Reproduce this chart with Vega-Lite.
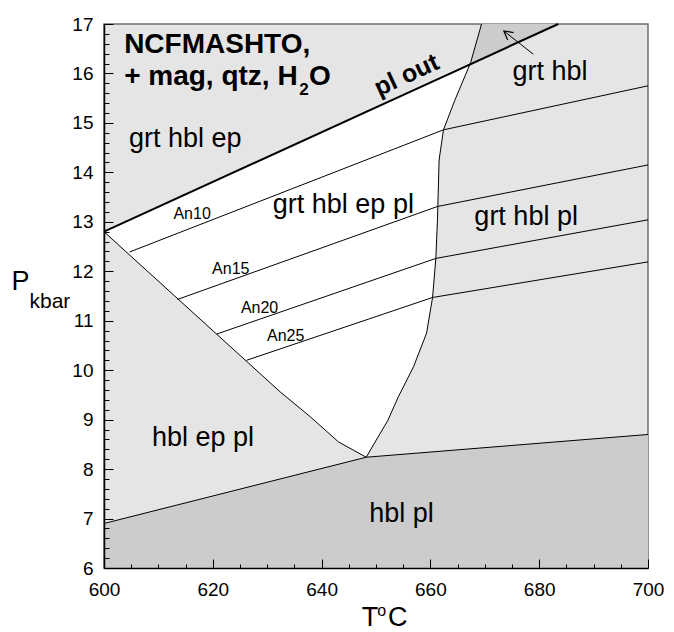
{
  "$schema": "https://vega.github.io/schema/vega-lite/v6.json",
  "width": 544,
  "height": 544,
  "autosize": {"type": "none"},
  "padding": {"left": 104, "top": 24, "right": 26, "bottom": 64},
  "background": "white",
  "view": {"stroke": null},
  "config": {"font": "Liberation Sans", "axis": {"ticks": true}},
  "resolve": {"axis": {"x": "independent", "y": "independent"}},
  "encoding": {
    "x": {"field": "T", "type": "quantitative", "scale": {"domain": [600, 700], "nice": false, "zero": false}, "axis": null},
    "y": {"field": "P", "type": "quantitative", "scale": {"domain": [6, 17], "nice": false, "zero": false}, "axis": null}
  },
  "layer": [
    {
      "data": {"values": [
        {"T": 600, "P": 17},
        {"T": 700, "P": 17}
      ]},
      "mark": {"type": "area", "color": "#e5e5e5", "stroke": "#6e6e6e", "strokeWidth": 1.5},
      "encoding": {"y2": {"datum": 6}}
    },
    {
      "data": {"values": [
        {"T": 600, "P": 6.9},
        {"T": 648.2, "P": 8.24},
        {"T": 700, "P": 8.7}
      ]},
      "mark": {"type": "area", "color": "#cccccc", "clip": true},
      "encoding": {
        "x": {
          "field": "T", "type": "quantitative",
          "scale": {"domain": [600, 700], "nice": false, "zero": false},
          "axis": {
            "orient": "bottom",
            "zindex": 1,
            "offset": -9,
            "values": [600, 620, 640, 660, 680, 700],
            "format": "d",
            "ticks": true,
            "tickSize": 9,
            "labelPadding": 12,
            "labelBaseline": "top",
            "labelFlush": false,
            "labelOverlap": false,
            "labelFontSize": 19,
            "labelColor": "black",
            "tickColor": "#000000",
            "tickOpacity": 1,
            "tickWidth": 1,
            "domain": false,
            "grid": false,
            "title": null
          }
        },
        "y": {
          "field": "P", "type": "quantitative",
          "scale": {"domain": [6, 17], "nice": false, "zero": false},
          "axis": {
            "orient": "left",
            "zindex": 1,
            "offset": -9,
            "values": [6, 7, 8, 9, 10, 11, 12, 13, 14, 15, 16, 17],
            "format": "d",
            "ticks": true,
            "tickSize": 9,
            "labelPadding": 11,
            "labelFlush": false,
            "labelOverlap": false,
            "labelFontSize": 19,
            "labelColor": "black",
            "tickColor": "#000000",
            "tickOpacity": 1,
            "tickWidth": 1,
            "domain": false,
            "grid": false,
            "title": null
          }
        },
        "y2": {"datum": 6}
      }
    },
    {
      "data": {"values": [
        {"o": 1, "T": 600, "P": 12.8},
        {"o": 2, "T": 667.4, "P": 16.22},
        {"o": 3, "T": 664.5, "P": 15.46},
        {"o": 4, "T": 662.4, "P": 14.86},
        {"o": 5, "T": 661.6, "P": 14.25},
        {"o": 6, "T": 661.3, "P": 13.04},
        {"o": 7, "T": 661.0, "P": 12.26},
        {"o": 8, "T": 660.4, "P": 11.47},
        {"o": 9, "T": 659.3, "P": 10.75},
        {"o": 10, "T": 656.9, "P": 10.07},
        {"o": 11, "T": 654.1, "P": 9.46},
        {"o": 12, "T": 652.2, "P": 8.99},
        {"o": 13, "T": 648.2, "P": 8.24},
        {"o": 14, "T": 643.1, "P": 8.55},
        {"o": 15, "T": 637.9, "P": 9.06},
        {"o": 16, "T": 632.4, "P": 9.56}
      ]},
      "mark": {"type": "line", "fill": "white", "stroke": "white", "strokeWidth": 0.5},
      "encoding": {"order": {"field": "o", "type": "quantitative"}}
    },
    {
      "data": {"values": [
        {"o": 1, "T": 669.4, "P": 17},
        {"o": 2, "T": 683.5, "P": 17},
        {"o": 3, "T": 667.4, "P": 16.22}
      ]},
      "mark": {"type": "line", "fill": "#cccccc", "stroke": "#cccccc", "strokeWidth": 0.5},
      "encoding": {"order": {"field": "o", "type": "quantitative"}}
    },
    {
      "data": {"values": [
        {"id": "curve", "o": 1, "T": 669.4, "P": 17},
        {"id": "curve", "o": 2, "T": 667.4, "P": 16.22},
        {"id": "curve", "o": 3, "T": 664.5, "P": 15.46},
        {"id": "curve", "o": 4, "T": 662.4, "P": 14.86},
        {"id": "curve", "o": 5, "T": 661.6, "P": 14.25},
        {"id": "curve", "o": 6, "T": 661.3, "P": 13.04},
        {"id": "curve", "o": 7, "T": 661.0, "P": 12.26},
        {"id": "curve", "o": 8, "T": 660.4, "P": 11.47},
        {"id": "curve", "o": 9, "T": 659.3, "P": 10.75},
        {"id": "curve", "o": 10, "T": 656.9, "P": 10.07},
        {"id": "curve", "o": 11, "T": 654.1, "P": 9.46},
        {"id": "curve", "o": 12, "T": 652.2, "P": 8.99},
        {"id": "curve", "o": 13, "T": 648.2, "P": 8.24},
        {"id": "left", "o": 1, "T": 600, "P": 12.8},
        {"id": "left", "o": 2, "T": 632.4, "P": 9.56},
        {"id": "left", "o": 3, "T": 637.9, "P": 9.06},
        {"id": "left", "o": 4, "T": 643.1, "P": 8.55},
        {"id": "left", "o": 5, "T": 648.2, "P": 8.24},
        {"id": "bottom", "o": 1, "T": 600, "P": 6.9},
        {"id": "bottom", "o": 2, "T": 648.2, "P": 8.24},
        {"id": "bottom", "o": 3, "T": 700, "P": 8.7},
        {"id": "An10", "o": 1, "T": 604.7, "P": 12.39},
        {"id": "An10", "o": 2, "T": 662.4, "P": 14.86},
        {"id": "An10", "o": 3, "T": 700, "P": 15.75},
        {"id": "An15", "o": 1, "T": 613.5, "P": 11.43},
        {"id": "An15", "o": 2, "T": 661.3, "P": 13.31},
        {"id": "An15", "o": 3, "T": 700, "P": 14.15},
        {"id": "An20", "o": 1, "T": 620.7, "P": 10.73},
        {"id": "An20", "o": 2, "T": 661.0, "P": 12.26},
        {"id": "An20", "o": 3, "T": 700, "P": 13.04},
        {"id": "An25", "o": 1, "T": 626.2, "P": 10.2},
        {"id": "An25", "o": 2, "T": 660.4, "P": 11.47},
        {"id": "An25", "o": 3, "T": 700, "P": 12.19},
        {"id": "arrow", "o": 1, "T": 678.9, "P": 16.39},
        {"id": "arrow", "o": 2, "T": 673.6, "P": 16.85}
      ]},
      "mark": {"type": "line", "color": "black", "strokeWidth": 1},
      "encoding": {
        "x": {
          "field": "T", "type": "quantitative",
          "scale": {"domain": [600, 700], "nice": false, "zero": false},
          "axis": {
            "orient": "bottom",
            "zindex": 1,
            "offset": -4,
            "values": [605,610,615,625,630,635,645,650,655,665,670,675,685,690,695],
            "ticks": true,
            "tickSize": 4,
            "labels": false,
            "domain": false,
            "tickColor": "#000000",
            "tickOpacity": 1,
            "tickWidth": 1,
            "grid": false,
            "title": null
          }
        },
        "y": {
          "field": "P", "type": "quantitative",
          "scale": {"domain": [6, 17], "nice": false, "zero": false},
          "axis": {
            "orient": "left",
            "zindex": 1,
            "offset": -5,
            "values": [6.2,6.4,6.6,6.8,7.2,7.4,7.6,7.8,8.2,8.4,8.6,8.8,9.2,9.4,9.6,9.8,10.2,10.4,10.6,10.8,11.2,11.4,11.6,11.8,12.2,12.4,12.6,12.8,13.2,13.4,13.6,13.8,14.2,14.4,14.6,14.8,15.2,15.4,15.6,15.8,16.2,16.4,16.6,16.8],
            "ticks": true,
            "tickSize": 5,
            "labels": false,
            "domain": false,
            "tickColor": "#000000",
            "tickOpacity": 1,
            "tickWidth": 1,
            "grid": false,
            "title": null
          }
        },
        "detail": {"field": "id", "type": "nominal"},
        "order": {"field": "o", "type": "quantitative"}
      }
    },
    {
      "data": {"values": [
        {"o": 1, "T": 600, "P": 12.8},
        {"o": 2, "T": 683.5, "P": 17}
      ]},
      "mark": {"type": "line", "color": "black", "strokeWidth": 2},
      "encoding": {
        "x": {
          "field": "T", "type": "quantitative",
          "scale": {"domain": [600, 700], "nice": false, "zero": false},
          "axis": {"orient": "bottom", "zindex": 1, "ticks": false, "labels": false, "domain": true, "domainColor": "black", "domainWidth": 1.5, "grid": false, "title": null}
        },
        "y": {
          "field": "P", "type": "quantitative",
          "scale": {"domain": [6, 17], "nice": false, "zero": false},
          "axis": {"orient": "left", "zindex": 1, "ticks": false, "labels": false, "domain": true, "domainColor": "black", "domainWidth": 1.5, "grid": false, "title": null}
        },
        "order": {"field": "o", "type": "quantitative"}
      }
    },
    {
      "data": {"values": [{"T": 673.5, "P": 16.86}]},
      "mark": {"type": "point", "shape": "M-0.55,1L0,0L0.55,1", "filled": false, "stroke": "black", "strokeWidth": 1.2, "size": 300, "angle": 308.5, "opacity": 1}
    },
    {
      "data": {"values": [
        {"t": "NCFMASHTO,", "T": 603.7, "P": 16.41},
        {"t": "+ mag, qtz, H", "T": 603.7, "P": 15.77},
        {"t": "O", "T": 637.7, "P": 15.77}
      ]},
      "mark": {"type": "text", "font": "Liberation Sans", "fontSize": 28, "fontWeight": "bold", "align": "left", "baseline": "alphabetic", "color": "black"},
      "encoding": {"text": {"field": "t"}}
    },
    {
      "data": {"values": [
        {"t": "2", "T": 635.9, "P": 15.56}
      ]},
      "mark": {"type": "text", "font": "Liberation Sans", "fontSize": 17, "fontWeight": "bold", "align": "left", "baseline": "alphabetic", "color": "black"},
      "encoding": {"text": {"field": "t"}}
    },
    {
      "data": {"values": [
        {"t": "grt hbl ep", "T": 604.6, "P": 14.52}
      ]},
      "mark": {"type": "text", "font": "Liberation Sans", "fontSize": 27, "align": "left", "baseline": "alphabetic", "color": "black"},
      "encoding": {"text": {"field": "t"}}
    },
    {
      "data": {"values": [
        {"t": "grt hbl ep pl", "T": 644.0, "P": 13.18},
        {"t": "grt hbl", "T": 682.0, "P": 15.87},
        {"t": "grt hbl pl", "T": 677.6, "P": 12.94},
        {"t": "hbl ep pl", "T": 618.2, "P": 8.47},
        {"t": "hbl pl", "T": 654.7, "P": 6.94}
      ]},
      "mark": {"type": "text", "font": "Liberation Sans", "fontSize": 27, "align": "center", "baseline": "alphabetic", "color": "black"},
      "encoding": {"text": {"field": "t"}}
    },
    {
      "data": {"values": [
        {"t": "An10", "T": 616.2, "P": 13.06},
        {"t": "An15", "T": 623.3, "P": 11.94},
        {"t": "An20", "T": 628.6, "P": 11.15},
        {"t": "An25", "T": 633.4, "P": 10.6}
      ]},
      "mark": {"type": "text", "font": "Liberation Sans", "fontSize": 16, "align": "center", "baseline": "alphabetic", "color": "black"},
      "encoding": {"text": {"field": "t"}}
    },
    {
      "data": {"values": [
        {"t": "pl out", "T": 655.6, "P": 15.97}
      ]},
      "mark": {"type": "text", "font": "Liberation Sans", "fontSize": 25, "fontWeight": "bold", "align": "center", "baseline": "middle", "angle": 335.3, "color": "black"},
      "encoding": {"text": {"field": "t"}}
    },
    {
      "data": {"values": [
        {"t": "P", "T": 583.0, "P": 11.62},
        {"t": "T", "T": 647.37, "P": 4.826},
        {"t": "C", "T": 652.2, "P": 4.826}
      ]},
      "mark": {"type": "text", "font": "Liberation Sans", "fontSize": 27, "align": "left", "baseline": "alphabetic", "color": "black"},
      "encoding": {"text": {"field": "t"}}
    },
    {
      "data": {"values": [
        {"t": "kbar", "T": 586.3, "P": 11.25}
      ]},
      "mark": {"type": "text", "font": "Liberation Sans", "fontSize": 21, "align": "left", "baseline": "alphabetic", "color": "black"},
      "encoding": {"text": {"field": "t"}}
    },
    {
      "data": {"values": [
        {"t": "o", "T": 650.25, "P": 5.03}
      ]},
      "mark": {"type": "text", "font": "Liberation Sans", "fontSize": 16, "align": "left", "baseline": "alphabetic", "color": "black"},
      "encoding": {"text": {"field": "t"}}
    }
  ]
}
